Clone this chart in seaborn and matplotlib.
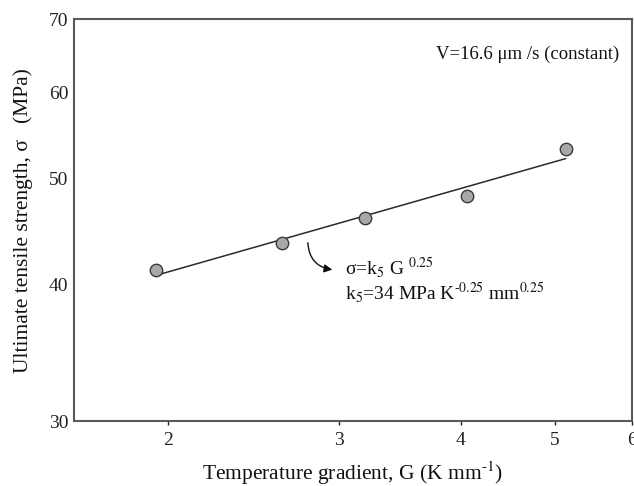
import matplotlib
matplotlib.use("Agg")
import matplotlib.pyplot as plt
import matplotlib.ticker as mticker
import seaborn as sns
import pandas as pd

# data
gradient_G = [1.944, 2.616, 3.185, 4.06, 5.13]
strength_sigma = [41.3, 43.65, 46.0, 48.25, 53.27]
fit_G = [1.944, 5.13]
fit_sigma = [40.8, 52.2]
x_ticks = [2, 3, 4, 5, 6]
y_ticks = [30, 40, 50, 60, 70]

sns.set_theme(style="white")
plt.rcParams['font.family'] = ['Liberation Serif', 'DejaVu Serif']
plt.rcParams['mathtext.fontset'] = 'stix'

fig = plt.figure(figsize=(6.34, 4.86), dpi=100)
ax = fig.add_axes([0.1167, 0.1337, 0.8801, 0.8262])

pts = pd.DataFrame({"G": gradient_G, "sigma": strength_sigma})
fit = pd.DataFrame({"G": fit_G, "sigma": fit_sigma})

sns.lineplot(data=fit, x="G", y="sigma", ax=ax, color="#2a2a2a", linewidth=1.1, zorder=2)
sns.scatterplot(data=pts, x="G", y="sigma", ax=ax, s=80, color="#a8a8a8",
                edgecolor="#3a3a3a", linewidth=1.0, zorder=3)

ax.set_xscale("log")
ax.set_yscale("log")
ax.set_xlim(1.6, 6)
ax.set_ylim(30, 70)
ax.xaxis.set_major_locator(mticker.FixedLocator(x_ticks))
ax.yaxis.set_major_locator(mticker.FixedLocator(y_ticks))
ax.xaxis.set_minor_locator(mticker.NullLocator())
ax.yaxis.set_minor_locator(mticker.NullLocator())
ax.xaxis.set_major_formatter(mticker.FormatStrFormatter("%d"))
ax.yaxis.set_major_formatter(mticker.FormatStrFormatter("%d"))

ax.tick_params(axis="x", length=3, width=1, direction="out", pad=5,
               labelsize=14, colors="#222222", bottom=True)
ax.tick_params(axis="y", length=0, pad=4, labelsize=14, colors="#222222", left=True)

for sp in ax.spines.values():
    sp.set_color("#5a5a5a")
    sp.set_linewidth(1.5)

ax.set_xlabel(r"Temperature gradient, G (K mm$^{\text{-1}}$)", fontsize=15.5, color="#111111")
ax.set_ylabel("Ultimate tensile strength, σ   (MPa)", fontsize=15.5, color="#111111")
ax.xaxis.label.set_va("baseline")
ax.xaxis.set_label_coords(0.499, -0.147)
ax.yaxis.set_label_coords(-0.073, 0.5)

ax.text(0.978, 0.914, "V=16.6 μm /s (constant)", transform=ax.transAxes,
        ha="right", va="center", fontsize=13.5, color="#111111")
ax.text(0.486, 0.381, r"σ=k$_5$ G $^{0.25}$", transform=ax.transAxes,
        ha="left", va="center", fontsize=14, color="#111111")
ax.text(0.486, 0.319, r"k$_5$=34 MPa K$^{\text{-0.25}}$ mm$^{0.25}$", transform=ax.transAxes,
        ha="left", va="center", fontsize=14, color="#111111")
ax.annotate("", xy=(0.468, 0.376), xytext=(0.419, 0.451),
            xycoords="axes fraction", textcoords="axes fraction",
            arrowprops=dict(arrowstyle="-|>", color="#111111", lw=1.0,
                            connectionstyle="arc3,rad=0.45", mutation_scale=12))

ax.set_facecolor("white")
fig.savefig("out.png", dpi=100, facecolor="white")
